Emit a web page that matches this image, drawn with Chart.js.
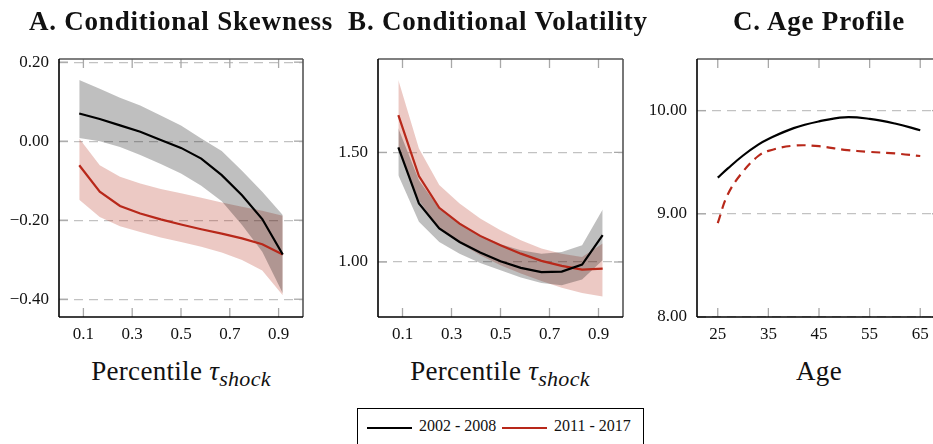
<!DOCTYPE html>
<html>
<head>
<meta charset="utf-8">
<script src="https://cdn.jsdelivr.net/npm/chart.js@4"></script>
<style>
  html, body { margin: 0; padding: 0; background: #fff; }
  body { width: 933px; height: 444px; overflow: hidden; position: relative; font-family: "Liberation Serif", serif; color: #111; }
  canvas { position: absolute; top: 0; }
  .title { position: absolute; width: 400px; text-align: center; font-weight: bold; font-size: 27px; letter-spacing: 0.8px; line-height: 30px; white-space: nowrap; }
  .xlabel { position: absolute; width: 300px; text-align: center; font-size: 27px; letter-spacing: 0.3px; line-height: 30px; white-space: nowrap; }
  .xlabel i { font-style: italic; }
  .xlabel sub { font-size: 22px; vertical-align: -6px; line-height: 0; }
  #legend { position: absolute; left: 357px; top: 408px; width: 285px; height: 60px; border: 1px solid #000; }
  #legend .sw { position: absolute; height: 2px; top: 18px; }
  #legend .lab { position: absolute; top: 8px; font-size: 16px; line-height: 18px; white-space: nowrap; }
</style>
</head>
<body>
<canvas id="skew" width="310" height="345" style="left:0px"></canvas>
<canvas id="vol" width="310" height="345" style="left:320px"></canvas>
<canvas id="age" width="320" height="345" style="left:630px"></canvas>

<div class="title" style="left:-19px; top:6px">A. Conditional Skewness</div>
<div class="title" style="left:298px; top:6px">B. Conditional Volatility</div>
<div class="title" style="left:619px; top:6px">C. Age Profile</div>

<div class="xlabel" style="left:31px; top:356px">Percentile <i>τ<sub>shock</sub></i></div>
<div class="xlabel" style="left:350px; top:356px">Percentile <i>τ<sub>shock</sub></i></div>
<div class="xlabel" style="left:669px; top:356px">Age</div>

<div id="legend">
  <div class="sw" style="left:9px; width:45px; background:#000"></div>
  <div class="lab" style="left:61px">2002 - 2008</div>
  <div class="sw" style="left:144px; width:45px; background:#b8281a"></div>
  <div class="lab" style="left:196px">2011 - 2017</div>
</div>

<script>
// shock percentiles
const pctl = [0.083, 0.167, 0.25, 0.333, 0.417, 0.5, 0.583, 0.667, 0.75, 0.833, 0.917];
const pctlTicks = [0.1, 0.3, 0.5, 0.7, 0.9];

// A. conditional skewness (line + band)
const skewEarly   = [0.07, 0.056, 0.04, 0.024, 0.003, -0.017, -0.044, -0.086, -0.137, -0.197, -0.287];
const skewEarlyHi = [0.155, 0.133, 0.11, 0.09, 0.065, 0.04, 0.007, -0.025, -0.075, -0.128, -0.187];
const skewEarlyLo = [0.008, 0.0, -0.015, -0.035, -0.058, -0.082, -0.113, -0.152, -0.212, -0.28, -0.385];
const skewLate    = [-0.061, -0.128, -0.164, -0.183, -0.198, -0.211, -0.223, -0.234, -0.246, -0.261, -0.287];
const skewLateHi  = [0.007, -0.061, -0.09, -0.107, -0.121, -0.132, -0.143, -0.155, -0.166, -0.176, -0.189];
const skewLateLo  = [-0.148, -0.192, -0.215, -0.23, -0.244, -0.255, -0.267, -0.282, -0.301, -0.327, -0.39];
const skewTicks   = [0.2, 0, -0.2, -0.4];

// B. conditional volatility
const volEarly   = [1.523, 1.267, 1.153, 1.091, 1.043, 1.003, 0.973, 0.954, 0.956, 0.988, 1.122];
const volEarlyHi = [1.61, 1.373, 1.244, 1.175, 1.122, 1.081, 1.053, 1.038, 1.046, 1.076, 1.239];
const volEarlyLo = [1.396, 1.183, 1.091, 1.038, 0.995, 0.962, 0.929, 0.904, 0.894, 0.92, 1.008];
const volLate    = [1.67, 1.392, 1.247, 1.175, 1.119, 1.076, 1.038, 1.005, 0.982, 0.965, 0.97];
const volLateHi  = [1.83, 1.518, 1.351, 1.267, 1.198, 1.145, 1.099, 1.061, 1.038, 1.023, 1.084];
const volLateLo  = [1.526, 1.282, 1.153, 1.087, 1.031, 0.985, 0.947, 0.913, 0.883, 0.858, 0.843];
const volTicks   = [1.0, 1.5];

// C. age profile
const ages = [25, 27, 30, 33, 35, 40, 45, 50, 55, 60, 65];
const ageEarly = [9.35, 9.44, 9.565, 9.67, 9.725, 9.83, 9.895, 9.935, 9.92, 9.875, 9.81];
const ageLate  = [8.91, 9.19, 9.41, 9.56, 9.61, 9.66, 9.655, 9.62, 9.6, 9.585, 9.56];
const ageTicks = [25, 35, 45, 55, 65];
const ageYTicks = [8, 9, 10];

const BLACK = '#000';
const RED = '#b8281a';
const GREY_BAND = 'rgba(0,0,0,0.25)';
const RED_BAND = 'rgba(180,40,20,0.25)';

const pts = (xs, ys) => xs.map((x, i) => ({ x, y: ys[i] }));

// inward tick marks and the box around the plot
const framePlugin = {
  id: 'frame',
  afterDatasetsDraw(chart) {
    const { ctx, chartArea: a, scales: { x, y } } = chart;
    const seg = (x1, y1, x2, y2) => { ctx.beginPath(); ctx.moveTo(x1, y1); ctx.lineTo(x2, y2); ctx.stroke(); };
    ctx.save();
    ctx.strokeStyle = '#a8a8a8';
    ctx.lineWidth = 1.3;
    x.ticks.forEach(t => {
      const px = x.getPixelForValue(t.value);
      seg(px, a.top, px, a.top + 9);
      seg(px, a.bottom, px, a.bottom - 9);
    });
    y.ticks.forEach(t => {
      const py = y.getPixelForValue(t.value);
      seg(a.left, py, a.left + 9, py);
      seg(a.right, py, a.right - 9, py);
    });
    ctx.lineWidth = 1.6;
    ctx.strokeStyle = '#555';
    seg(a.left, a.top, a.right, a.top);
    seg(a.right, a.top, a.right, a.bottom);
    ctx.strokeStyle = '#000';
    seg(a.left, a.top, a.left, a.bottom);
    seg(a.left, a.bottom, a.right, a.bottom);
    ctx.restore();
  }
};

const tickFont = { family: '"Liberation Serif", serif', size: 17 };

function fmtY(v) {
  const s = Math.abs(v).toFixed(2);
  return v < 0 ? '\u2212' + s : s;
}

function bandSets(hi, lo, color) {
  return [
    { data: hi, borderColor: 'transparent', borderWidth: 0, pointRadius: 0, backgroundColor: color, fill: '+1', order: 2 },
    { data: lo, borderColor: 'transparent', borderWidth: 0, pointRadius: 0, fill: false, order: 2 }
  ];
}

function lineSet(data, color, extra) {
  return Object.assign({ data, borderColor: color, borderWidth: 2.2, pointRadius: 0, fill: false, tension: 0, order: 0 }, extra || {});
}

function makePanel(id, datasets, xOpts, yOpts, leftW, rightPad) {
  return new Chart(document.getElementById(id), {
    type: 'line',
    data: { datasets },
    options: {
      responsive: false,
      devicePixelRatio: 1,
      animation: false,
      layout: { padding: { top: 59, right: rightPad, left: 0, bottom: 0 } },
      plugins: { legend: { display: false }, tooltip: { enabled: false } },
      scales: {
        x: {
          type: 'linear',
          min: xOpts.min,
          max: xOpts.max,
          afterBuildTicks: s => { s.ticks = xOpts.ticks.map(value => ({ value })); },
          afterFit: s => { s.height = 28; },
          grid: { display: false, drawTicks: false },
          border: { display: false },
          ticks: { color: '#111', font: tickFont, padding: 7, maxRotation: 0, callback: xOpts.fmt }
        },
        y: {
          type: 'linear',
          min: yOpts.min,
          max: yOpts.max,
          afterBuildTicks: s => { s.ticks = yOpts.ticks.map(value => ({ value })); },
          afterFit: s => { s.width = leftW; },
          grid: { color: '#c2c2c2', lineWidth: 1.2, drawTicks: false },
          border: { display: false, dash: [9, 6] },
          ticks: { color: '#111', font: tickFont, padding: 10, callback: fmtY }
        }
      }
    },
    plugins: [framePlugin]
  });
}

makePanel('skew', [
  lineSet(pts(pctl, skewEarly), BLACK),
  lineSet(pts(pctl, skewLate), RED),
  ...bandSets(pts(pctl, skewEarlyHi), pts(pctl, skewEarlyLo), GREY_BAND),
  ...bandSets(pts(pctl, skewLateHi), pts(pctl, skewLateLo), RED_BAND)
], { min: 0, max: 1, ticks: pctlTicks, fmt: v => v.toFixed(1) },
   { min: -0.445, max: 0.208, ticks: skewTicks }, 59, 7);

makePanel('vol', [
  lineSet(pts(pctl, volEarly), BLACK),
  lineSet(pts(pctl, volLate), RED),
  ...bandSets(pts(pctl, volEarlyHi), pts(pctl, volEarlyLo), GREY_BAND),
  ...bandSets(pts(pctl, volLateHi), pts(pctl, volLateLo), RED_BAND)
], { min: 0, max: 1, ticks: pctlTicks, fmt: v => v.toFixed(1) },
   { min: 0.749, max: 1.926, ticks: volTicks }, 58, 7);

makePanel('age', [
  lineSet(pts(ages, ageEarly), BLACK, { tension: 0.4 }),
  lineSet(pts(ages, ageLate), RED, { tension: 0.4, borderDash: [9, 6] })
], { min: 20.9, max: 69.1, ticks: ageTicks, fmt: v => String(v) },
   { min: 8, max: 10.5, ticks: ageYTicks }, 67, 9);
</script>
</body>
</html>
